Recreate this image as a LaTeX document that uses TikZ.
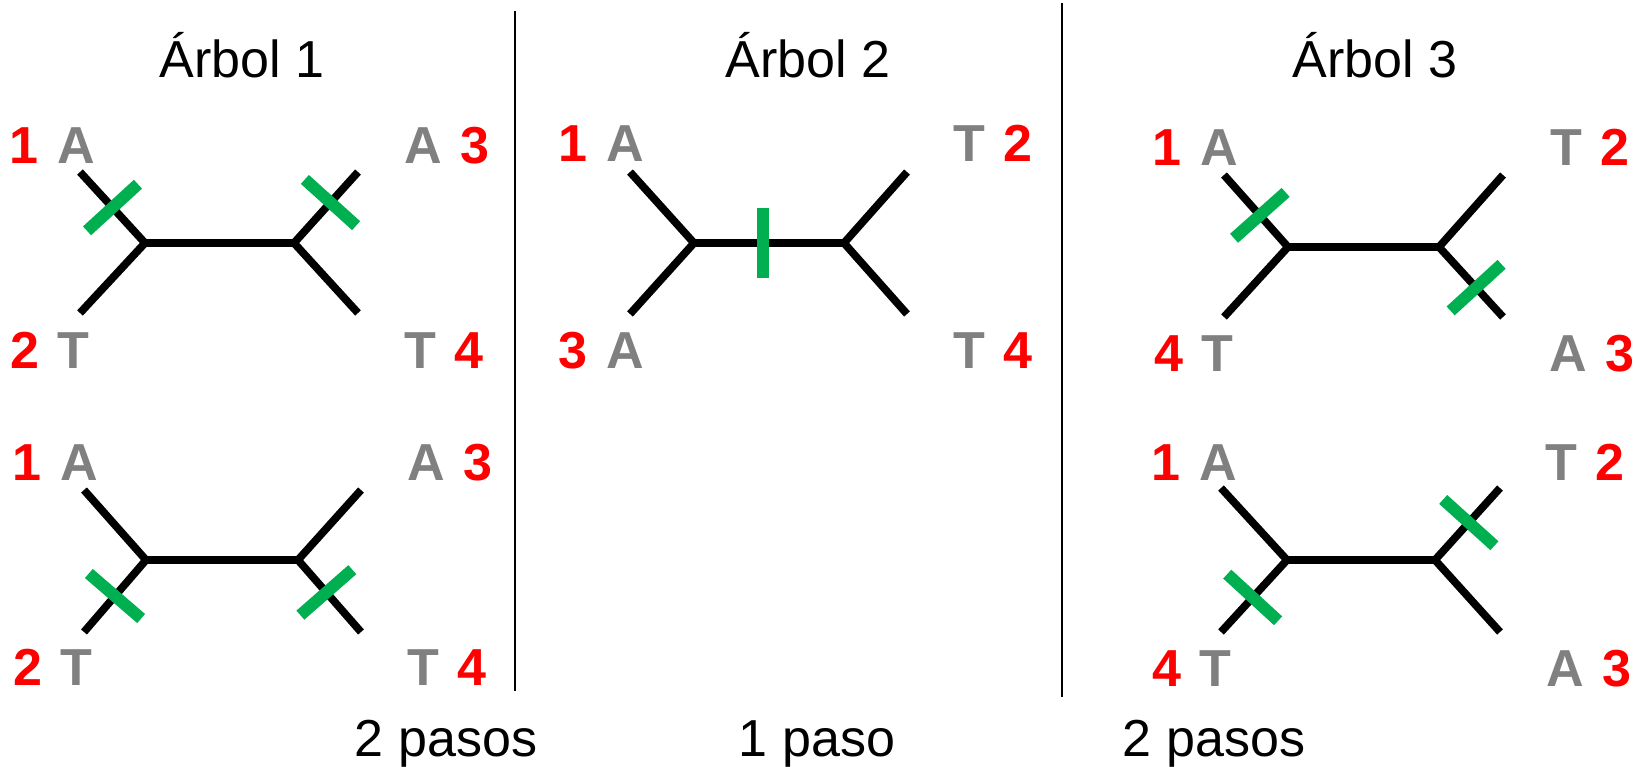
\documentclass[tikz,border=0pt]{standalone}
\usepackage{fontspec}
\setmainfont{Liberation Sans}
\definecolor{numred}{RGB}{255,0,0}
\definecolor{basegray}{RGB}{128,128,128}
\definecolor{cutgreen}{RGB}{0,176,80}

\begin{document}
\begin{tikzpicture}
[x=0.01cm, y=-0.01cm, branch/.style={line width=2.2pt}, divider/.style={line width=0.6pt},
 cut/.style={sloped, fill=cutgreen, inner sep=0, minimum width=1.2mm, minimum height=6.9mm},
 leaf/.style={anchor=base, inner sep=0, font=\bfseries\fontsize{14.8}{17}\selectfont, execute at begin node={\spaceskip=0.36em\relax}},
 heading/.style={anchor=base, inner sep=0, font=\fontsize{14.8}{17}\selectfont}]
\useasboundingbox (0,0) rectangle (1642,766);
% titles and step counts
\node (t1) [heading] at (242, 77) {Árbol 1};
\node (t2) [heading] at (808, 77) {Árbol 2};
\node (t3) [heading] at (1375, 77) {Árbol 3};
\node (s1) [heading] at (446, 756) {2 pasos};
\node (s2) [heading] at (817, 756) {1 paso};
\node (s3) [heading] at (1214, 756) {2 pasos};
\draw [divider] (515, 11) -- (515, 691);
\draw [divider] (1062, 3) -- (1062, 697);
% tree 1, first placement
\coordinate (a-l) at (145, 243);
\coordinate (a-r) at (294, 243);
\coordinate (a-1) at (80, 172);
\coordinate (a-2) at (80, 313);
\coordinate (a-3) at (358, 172);
\coordinate (a-4) at (358, 313);
\draw [branch] (a-1) -- (a-l) -- (a-r) -- (a-3);
\draw [branch] (a-2) -- (a-l);
\draw [branch] (a-4) -- (a-r);
\path (a-l) -- node (a-c1) [cut] {} (a-1);
\path (a-r) -- node (a-c3) [cut, pos=0.57] {} (a-3);
\node (a-n1) [leaf] at (52, 163) {\color{numred}1 \color{basegray}A};
\node (a-n2) [leaf] at (50, 368) {\color{numred}2 \color{basegray}T};
\node (a-n3) [leaf] at (447, 163) {\color{basegray}A \color{numred}3};
\node (a-n4) [leaf] at (444, 368) {\color{basegray}T \color{numred}4};
% tree 1, second placement
\coordinate (b-l) at (146, 560);
\coordinate (b-r) at (298, 560);
\coordinate (b-1) at (84, 490);
\coordinate (b-2) at (84, 632);
\coordinate (b-3) at (361, 490);
\coordinate (b-4) at (361, 632);
\draw [branch] (b-2) -- (b-l) -- (b-r) -- (b-4);
\draw [branch] (b-1) -- (b-l);
\draw [branch] (b-3) -- (b-r);
\path (b-l) -- node (b-c2) [cut] {} (b-2);
\path (b-r) -- node (b-c4) [cut, pos=0.45] {} (b-4);
\node (b-n1) [leaf] at (55, 480) {\color{numred}1 \color{basegray}A};
\node (b-n2) [leaf] at (53, 685) {\color{numred}2 \color{basegray}T};
\node (b-n3) [leaf] at (450, 480) {\color{basegray}A \color{numred}3};
\node (b-n4) [leaf] at (447, 685) {\color{basegray}T \color{numred}4};
% tree 2
\coordinate (c-l) at (694, 243);
\coordinate (c-r) at (844, 243);
\coordinate (c-1) at (630, 172);
\coordinate (c-3) at (630, 314);
\coordinate (c-2) at (907, 172);
\coordinate (c-4) at (907, 314);
\draw [branch] (c-1) -- (c-l) -- (c-r) -- (c-2);
\draw [branch] (c-3) -- (c-l);
\draw [branch] (c-4) -- (c-r);
\path (c-l) -- node (c-c) [cut, pos=0.46] {} (c-r);
\node (c-n1) [leaf] at (601, 161) {\color{numred}1 \color{basegray}A};
\node (c-n3) [leaf] at (601, 368) {\color{numred}3 \color{basegray}A};
\node (c-n2) [leaf] at (993, 161) {\color{basegray}T \color{numred}2};
\node (c-n4) [leaf] at (993, 368) {\color{basegray}T \color{numred}4};
% tree 3, first placement
\coordinate (d-l) at (1288, 247);
\coordinate (d-r) at (1439, 247);
\coordinate (d-1) at (1224, 175);
\coordinate (d-4) at (1224, 317);
\coordinate (d-2) at (1503, 175);
\coordinate (d-3) at (1503, 317);
\draw [branch] (d-1) -- (d-l) -- (d-r) -- (d-2);
\draw [branch] (d-4) -- (d-l);
\draw [branch] (d-3) -- (d-r);
\path (d-l) -- node (d-c1) [cut, pos=0.44] {} (d-1);
\path (d-r) -- node (d-c3) [cut, pos=0.58] {} (d-3);
\node (d-n1) [leaf] at (1195, 165) {\color{numred}1 \color{basegray}A};
\node (d-n4) [leaf] at (1194, 371) {\color{numred}4 \color{basegray}T};
\node (d-n2) [leaf] at (1590, 165) {\color{basegray}T \color{numred}2};
\node (d-n3) [leaf] at (1592, 371) {\color{basegray}A \color{numred}3};
% tree 3, second placement
\coordinate (e-l) at (1287, 560);
\coordinate (e-r) at (1435, 560);
\coordinate (e-1) at (1221, 488);
\coordinate (e-4) at (1221, 632);
\coordinate (e-2) at (1500, 488);
\coordinate (e-3) at (1500, 632);
\draw [branch] (e-1) -- (e-l) -- (e-r) -- (e-2);
\draw [branch] (e-4) -- (e-l);
\draw [branch] (e-3) -- (e-r);
\path (e-l) -- node (e-c4) [cut, pos=0.52] {} (e-4);
\path (e-r) -- node (e-c2) [cut, pos=0.52] {} (e-2);
\node (e-n1) [leaf] at (1194, 480) {\color{numred}1 \color{basegray}A};
\node (e-n4) [leaf] at (1192, 686) {\color{numred}4 \color{basegray}T};
\node (e-n2) [leaf] at (1585, 480) {\color{basegray}T \color{numred}2};
\node (e-n3) [leaf] at (1589, 686) {\color{basegray}A \color{numred}3};
\end{tikzpicture}
\end{document}
